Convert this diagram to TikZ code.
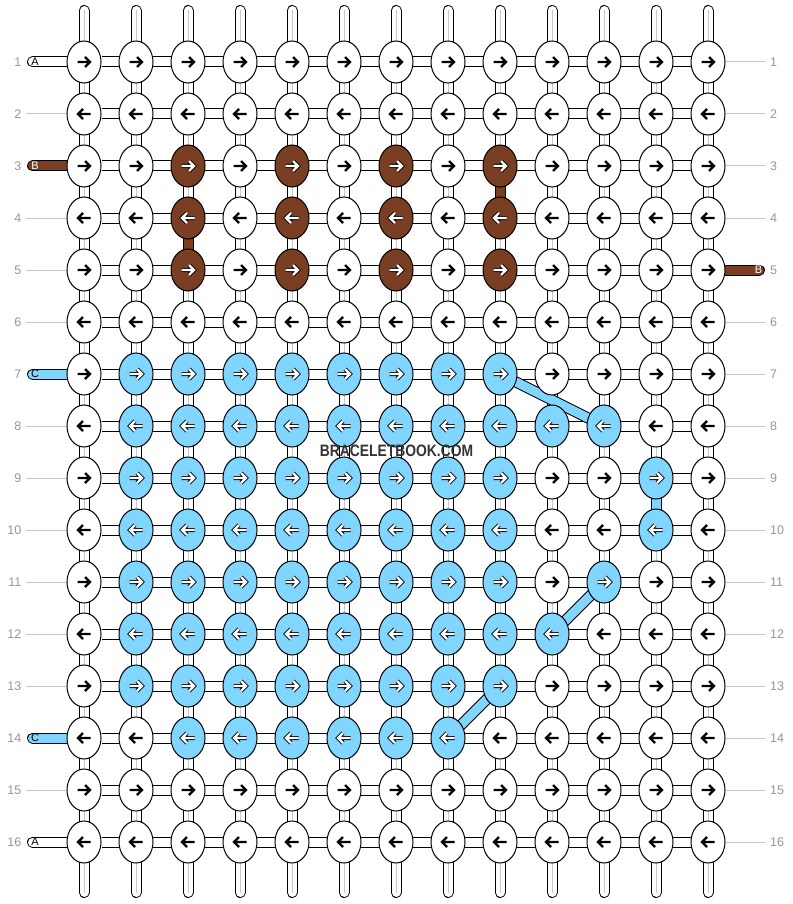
\documentclass[tikz,border=0pt]{standalone}
\usepackage{fontspec}
\setmainfont{Liberation Sans}
\usetikzlibrary{shapes.geometric,backgrounds}

\definecolor{knotbrown}{RGB}{122,62,34}
\definecolor{knotblue}{RGB}{128,214,255}
\definecolor{numgrey}{RGB}{150,150,150}
\definecolor{guidegrey}{RGB}{195,195,195}
\definecolor{coregrey}{RGB}{200,200,200}
\definecolor{markgrey}{RGB}{51,51,51}
\colorlet{fillw}{white}
\colorlet{filln}{knotbrown}
\colorlet{fillb}{knotblue}

\tikzset{
    knot/.style={draw, ellipse, line width=1pt, minimum width=34pt, minimum height=42pt, inner sep=0pt},
    strand/.style={draw=black, line width=1pt, double distance=9pt},
    core/.style={draw=coregrey, line width=0.9pt},
    guide/.style={draw=guidegrey, line width=1pt},
    rownum/.style={text=numgrey, inner sep=0pt, font=\fontsize{12.5}{12.5}\selectfont},
    tagw/.style={text=black, inner sep=0pt, font=\fontsize{11}{11}\selectfont},
    tagn/.style={tagw, text=white},
    tagb/.style={tagw},
    glyphw/.style={draw=black, line width=2.4pt},
    glyphn/.style={draw=white, line width=2.4pt, preaction={draw=black, line width=4pt}},
    glyphb/.style={glyphn},
    glyph/.pic={\path[glyph#1] (-6.5,0) -- (5.5,0) (1,-5) -- (6,0) -- (1,5);},
    watermark/.style={text=markgrey, inner sep=0pt, font=\fontsize{16.5}{16.5}\selectfont\bfseries}
}

\begin{document}
\begin{tikzpicture}[x=1pt, y=-1pt]
\useasboundingbox (0,0) rectangle (792,904);

% knots row by row: w white, n brown, b blue
\foreach \r/\d/\row in {
    1/1/{w,w,w,w,w,w,w,w,w,w,w,w,w},
    2/-1/{w,w,w,w,w,w,w,w,w,w,w,w,w},
    3/1/{w,w,n,w,n,w,n,w,n,w,w,w,w},
    4/-1/{w,w,n,w,n,w,n,w,n,w,w,w,w},
    5/1/{w,w,n,w,n,w,n,w,n,w,w,w,w},
    6/-1/{w,w,w,w,w,w,w,w,w,w,w,w,w},
    7/1/{w,b,b,b,b,b,b,b,b,w,w,w,w},
    8/-1/{w,b,b,b,b,b,b,b,b,b,b,w,w},
    9/1/{w,b,b,b,b,b,b,b,b,w,w,b,w},
    10/-1/{w,b,b,b,b,b,b,b,b,w,w,b,w},
    11/1/{w,b,b,b,b,b,b,b,b,w,b,w,w},
    12/-1/{w,b,b,b,b,b,b,b,b,b,w,w,w},
    13/1/{w,b,b,b,b,b,b,b,b,w,w,w,w},
    14/-1/{w,w,b,b,b,b,b,b,w,w,w,w,w},
    15/1/{w,w,w,w,w,w,w,w,w,w,w,w,w},
    16/-1/{w,w,w,w,w,w,w,w,w,w,w,w,w}}{
    \foreach \k [count=\c] in \row {
        \node[knot, fill=fill\k] (k-\r-\c) at ({84+52*(\c-1)}, {62+52*(\r-1)}) {};
        \pic[xscale=\d] at (k-\r-\c) {glyph=\k};
    }
}

\begin{scope}[on background layer]
    % strands down each column
    \foreach \c in {1,...,13} {
        \coordinate (top-\c) at ({84+52*(\c-1)}, 10.5);
        \coordinate (bot-\c) at ({84+52*(\c-1)}, 892.5);
        \draw[strand, double=white, line cap=round] (top-\c) -- (bot-\c);
        \draw[core] (top-\c) -- (bot-\c);
    }
    % strands along each row
    \foreach \r in {1,...,16}
        \draw[strand, double=white] (k-\r-1) -- (k-\r-13);
    % coloured links
    \foreach \a/\b/\k in {k-3-9/k-4-9/n, k-4-3/k-5-3/n, k-9-12/k-10-12/b,
                          k-7-9/k-8-11/b, k-11-11/k-12-10/b, k-13-9/k-14-8/b}
        \draw[strand, double=fill\k, shorten <=-4pt, shorten >=-4pt] (\a) -- (\b);
    % loose ends
    \foreach \r/\k in {1/w, 3/n, 7/b, 14/b, 16/w} {
        \coordinate (lt-\r) at (32.5, {62+52*(\r-1)});
        \draw[strand, double=fill\k, line cap=round] (lt-\r) -- (k-\r-1);
    }
    \coordinate (rt-5) at (759.5, 270);
    \draw[strand, double=filln, line cap=round] (k-5-13) -- (rt-5);
    % guide lines
    \foreach \r in {2,4,5,6,8,9,10,11,12,13,15} {
        \coordinate (lg-\r) at (26, {62+52*(\r-1)});
        \draw[guide] (lg-\r) -- (k-\r-1);
    }
    \foreach \r in {1,2,3,4,6,7,8,9,10,11,12,13,14,15,16} {
        \coordinate (rg-\r) at (765, {62+52*(\r-1)});
        \draw[guide] (k-\r-13) -- (rg-\r);
    }
\end{scope}

% letters on the loose ends
\foreach \r/\k/\t in {1/w/A, 3/n/B, 7/b/C, 14/b/C, 16/w/A}
    \node[tag\k] (tag-\r) at (35, {62+52*(\r-1)}) {\t};
\node[tagn] (tag-r5) at (758.5, 270) {B};

% row numbers
\foreach \r in {1,...,16} {
    \node[rownum, anchor=east] (ln-\r) at (21.5, {62+52*(\r-1)}) {\r};
    \node[rownum, anchor=west] (rn-\r) at (770, {62+52*(\r-1)}) {\r};
}

\node[watermark] (mark) at (396.5, 451) {\scalebox{0.84}[1]{BRACELETBOOK.COM}};
\end{tikzpicture}
\end{document}
